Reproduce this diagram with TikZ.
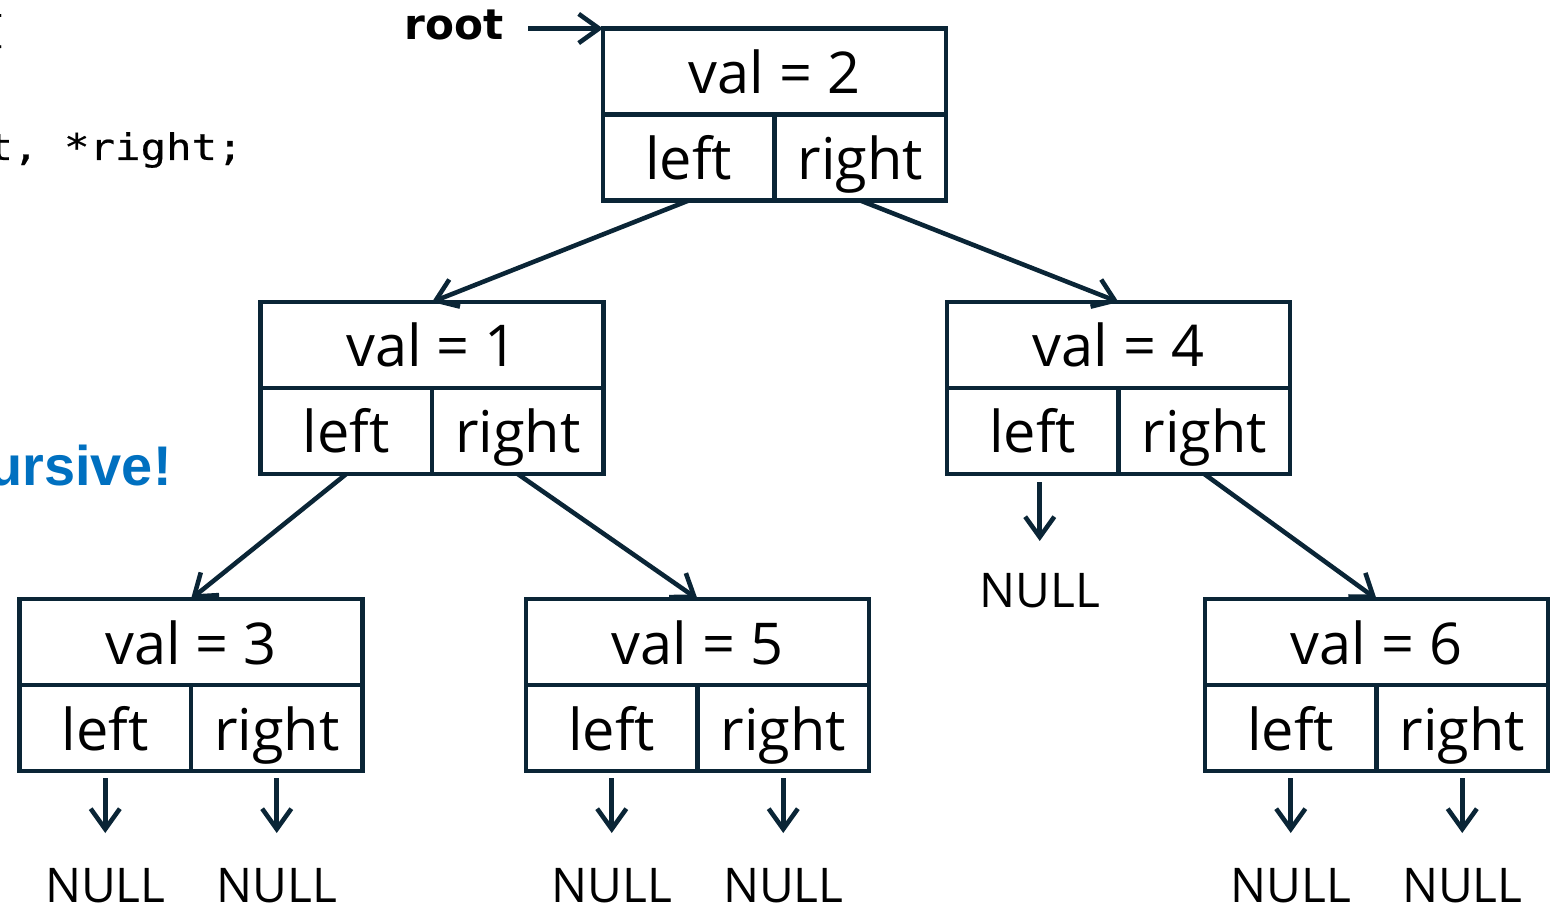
\documentclass[tikz,border=0pt]{standalone}
\usepackage{fontspec}
\setmainfont{Open Sans}
\newfontfamily\codefont{DejaVu Sans Mono}[FakeStretch=1.16, FakeBold=0.6]
\newfontfamily\rootfont{DejaVu Sans}
\newfontfamily\notefont{Liberation Sans}
\usetikzlibrary{arrows.meta,positioning}
\definecolor{linecol}{RGB}{10,37,54}
\definecolor{noteblue}{RGB}{0,112,192}

\begin{document}
\begin{tikzpicture}[line width=1.3pt, >={Straight Barb[length=5.8pt,width=8.3pt]},
        valbox/.style={draw=linecol, minimum width=3.43cm, minimum height=0.86cm,
            inner sep=0, outer sep=0, text height=0.44cm, text depth=0pt,
            font=\fontsize{16.4}{19}\selectfont},
        ptrbox/.style={valbox, minimum width=1.715cm},
        nulltxt/.style={inner sep=0, font=\fontsize{13.6}{16}\selectfont},
        link/.style={->, draw=linecol}]
        \useasboundingbox (0,0) rectangle (15.56,9.03);
        \clip (0,0) rectangle (15.56,9.03);
        % 左边的代码和说明
        \node[anchor=base east, inner sep=0, font=\codefont\fontsize{10.4}{13}\selectfont] (brace) at (0.08,8.61) {\{};
        \node[anchor=base east, inner sep=0, font=\codefont\fontsize{10.4}{13}\selectfont] (code) at (2.45,7.43) {*left, *right;};
        \node[anchor=base east, inner sep=0, text=noteblue, font=\notefont\bfseries\fontsize{15.9}{19}\selectfont] (note) at (1.74,4.18) {Recursive!};
        % 根
        \node[anchor=base east, inner sep=0, font=\rootfont\bfseries\fontsize{12}{14}\selectfont] (root) at (5.06,8.63) {root};
        \node[valbox] (n2) at (7.745,8.315) {val = 2};
        \node[ptrbox, anchor=north west] (n2l) at (n2.south west) {left};
        \node[ptrbox, anchor=north east] (n2r) at (n2.south east) {right};
        \draw[link, shorten <=0.22cm] (root.east |- n2.north west) -- (n2.north west);
        % 第二层
        \node[valbox] (n1) at (4.32,5.58) {val = 1};
        \node[ptrbox, anchor=north west] (n1l) at (n1.south west) {left};
        \node[ptrbox, anchor=north east] (n1r) at (n1.south east) {right};
        \node[valbox] (n4) at (11.185,5.58) {val = 4};
        \node[ptrbox, anchor=north west] (n4l) at (n4.south west) {left};
        \node[ptrbox, anchor=north east] (n4r) at (n4.south east) {right};
        \draw[link] (n2l.south) -- (n1.north);
        \draw[link] (n2r.south) -- (n4.north);
        % 第三层
        \node[valbox] (n3) at (1.91,2.61) {val = 3};
        \node[ptrbox, anchor=north west] (n3l) at (n3.south west) {left};
        \node[ptrbox, anchor=north east] (n3r) at (n3.south east) {right};
        \node[valbox] (n5) at (6.975,2.61) {val = 5};
        \node[ptrbox, anchor=north west] (n5l) at (n5.south west) {left};
        \node[ptrbox, anchor=north east] (n5r) at (n5.south east) {right};
        \node[valbox] (n6) at (13.765,2.61) {val = 6};
        \node[ptrbox, anchor=north west] (n6l) at (n6.south west) {left};
        \node[ptrbox, anchor=north east] (n6r) at (n6.south east) {right};
        \draw[link] (n1l.south) -- (n3.north);
        \draw[link] (n1r.south) -- (n5.north);
        \draw[link] (n4r.south) -- (n6.north);
        % 空指针
        \node[nulltxt, below=0.97cm of n4l, xshift=0.07cm] (n4ln) {NULL};
        \node[nulltxt, below=0.95cm of n3l] (n3ln) {NULL};
        \node[nulltxt, below=0.95cm of n3r] (n3rn) {NULL};
        \node[nulltxt, below=0.95cm of n5l] (n5ln) {NULL};
        \node[nulltxt, below=0.95cm of n5r] (n5rn) {NULL};
        \node[nulltxt, below=0.95cm of n6l] (n6ln) {NULL};
        \node[nulltxt, below=0.95cm of n6r] (n6rn) {NULL};
        \draw[link, shorten <=0.08cm, shorten >=0.3cm] (n4ln |- n4l.south) -- (n4ln);
        \draw[link, shorten <=0.07cm, shorten >=0.33cm] (n3l) -- (n3ln);
        \draw[link, shorten <=0.07cm, shorten >=0.33cm] (n3r) -- (n3rn);
        \draw[link, shorten <=0.07cm, shorten >=0.33cm] (n5l) -- (n5ln);
        \draw[link, shorten <=0.07cm, shorten >=0.33cm] (n5r) -- (n5rn);
        \draw[link, shorten <=0.07cm, shorten >=0.33cm] (n6l) -- (n6ln);
        \draw[link, shorten <=0.07cm, shorten >=0.33cm] (n6r) -- (n6rn);
    \end{tikzpicture}
\end{document}
